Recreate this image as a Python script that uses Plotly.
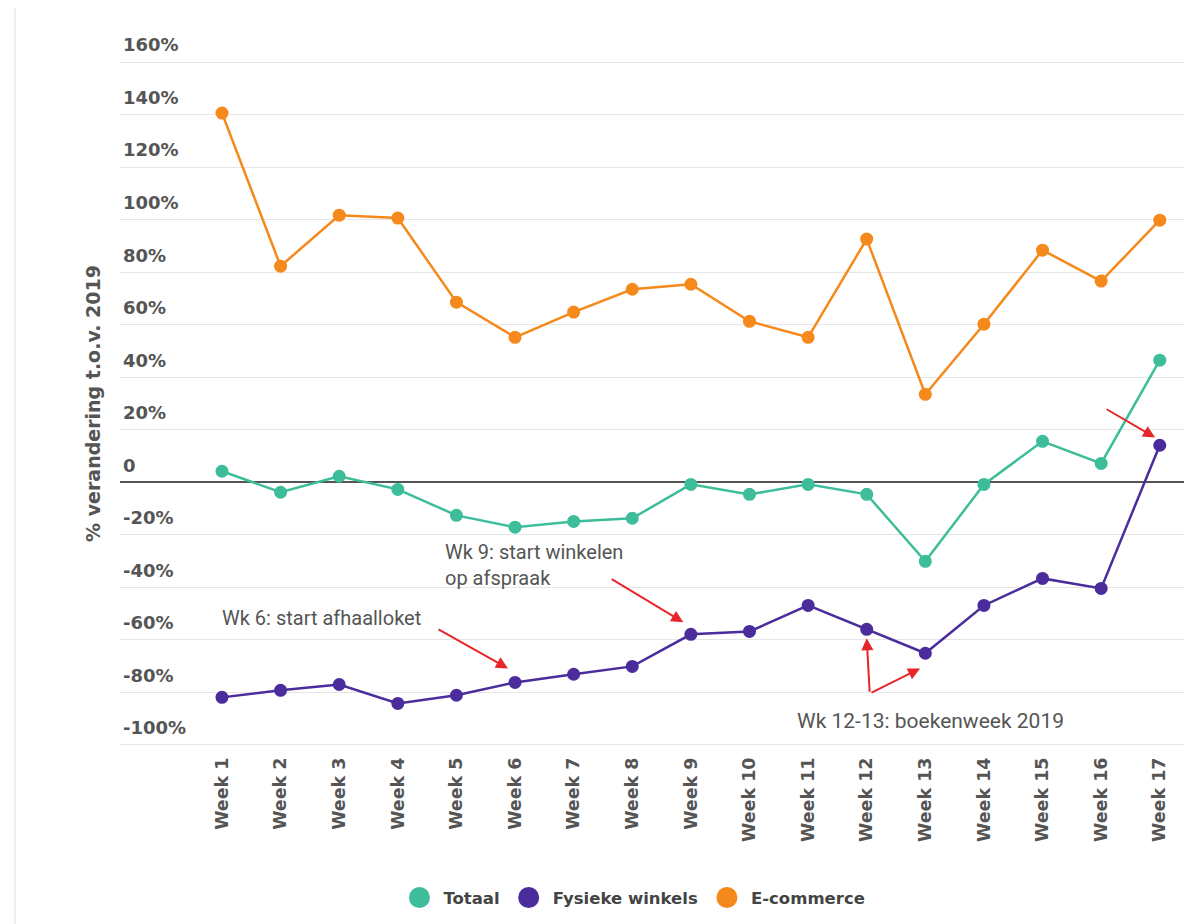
import plotly.graph_objects as go

weeks = [f"Week {i}" for i in range(1, 18)]
totaal = [4.2, -3.8, 2.3, -2.7, -12.6, -17.1, -14.9, -13.7, -0.8, -4.6, -0.8, -4.6, -30.1, -0.8, 15.6, 7.2, 46.5]
fysiek = [-81.9, -79.2, -77.0, -84.2, -81.1, -76.2, -73.1, -70.1, -57.9, -56.8, -46.9, -56.0, -65.1, -46.9, -36.6, -40.4, 14.1]
ecommerce = [140.6, 82.3, 101.7, 100.6, 68.6, 55.2, 64.8, 73.5, 75.4, 61.3, 55.2, 92.6, 33.5, 60.2, 88.4, 76.6, 99.8]

series_names = ["Totaal", "Fysieke winkels", "E-commerce"]
series_values = [totaal, fysiek, ecommerce]
colors = ["#3dbd9a", "#4a2c9c", "#f5891c"]

ytickvals = list(range(-100, 161, 20))
yticktext = [("0" if v == 0 else f"{v}%") for v in ytickvals]

fig = go.Figure()
for name, vals, col in zip(series_names, series_values, colors):
    fig.add_trace(go.Scatter(
        x=weeks, y=vals, mode="lines+markers", name=name,
        line=dict(color=col, width=2.5),
        marker=dict(color=col, size=13),
        showlegend=False,
    ))
for name, col in zip(series_names, colors):
    fig.add_trace(go.Scatter(
        x=[None], y=[None], mode="markers", name=name,
        marker=dict(color=col, size=16, line=dict(color=col, width=5)),
    ))

ytickfont = dict(family="DejaVu Sans", size=18, color="#555555", weight="bold")
xtickfont = dict(family="DejaVu Sans", size=17.5, color="#555555", weight="bold")

# page body adds an 8px offset; figure is sized to compensate
fig.update_layout(
    width=1184, height=916,
    margin=dict(l=112, r=0, t=52, b=177),
    paper_bgcolor="white", plot_bgcolor="white",
    font=dict(family="DejaVu Sans", color="#555555"),
    showlegend=True,
    legend=dict(
        orientation="h", x=0.4785, xanchor="center", y=-0.2195, yanchor="middle",
        font=dict(family="DejaVu Sans", size=16.5, color="#444444", weight="bold"),
        itemwidth=38, tracegroupgap=0,
    ),
    xaxis=dict(
        type="category", categoryorder="array", categoryarray=weeks,
        range=[-1.74, 16.55], tickangle=-90, tickfont=xtickfont,
        ticklabelstandoff=6,
        showgrid=False, zeroline=False, showline=False, ticks="",
    ),
    yaxis=dict(
        range=[-100.8, 160.8], tickvals=ytickvals, ticktext=yticktext,
        ticklabelposition="inside", ticklabelshift=-17, ticklabelstandoff=0,
        ticklabeloverflow="allow",
        tickfont=ytickfont,
        showgrid=True, gridcolor="#e6e6e6", gridwidth=1,
        zeroline=True, zerolinecolor="#555555", zerolinewidth=1.5,
        title=dict(text="% verandering t.o.v. 2019", standoff=17,
                   font=dict(family="DejaVu Sans", size=19, color="#555555", weight="bold")),
    ),
)

fig.add_shape(type="line", xref="paper", yref="paper", x0=-0.098, x1=-0.098, y0=-0.3, y1=1.1,
              line=dict(color="#eeeeee", width=2))

annfont = dict(family="Roboto", size=20, color="#555555")
fig.add_annotation(x=-0.03, y=-51.8, xref="x", yref="y", text="Wk 6: start afhaalloket",
                   showarrow=False, xanchor="left", yanchor="middle", font=annfont)
fig.add_annotation(x=3.77, y=-31.6, xref="x", yref="y", text="Wk 9: start winkelen<br>op afspraak",
                   showarrow=False, xanchor="left", yanchor="middle", align="left", font=annfont)
fig.add_annotation(x=9.78, y=-90.8, xref="x", yref="y", text="Wk 12-13: boekenweek 2019",
                   showarrow=False, xanchor="left", yanchor="middle",
                   font=dict(family="Roboto", size=21, color="#555555"))

arrows = [
    (4.88, -70.9, -71, -40),
    (7.87, -53.3, -73, -44),
    (11.0, -59.4, 3, 55),
    (11.91, -70.9, -50, 25),
    (15.92, 17.1, -50, -29),
]
for x, y, ax, ay in arrows:
    fig.add_annotation(x=x, y=y, xref="x", yref="y", ax=ax, ay=ay, text="",
                       showarrow=True, arrowhead=2, arrowsize=1.2, arrowwidth=2,
                       arrowcolor="#e8262a")

fig.write_html("out.html")
